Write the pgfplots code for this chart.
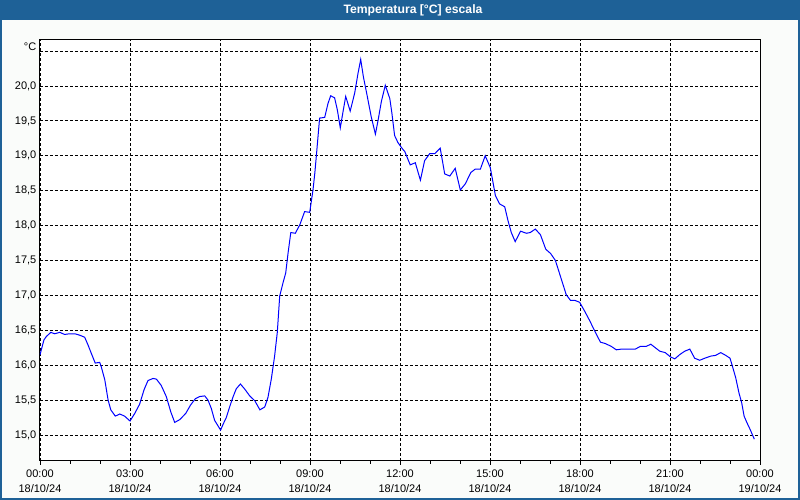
\documentclass[border=0pt]{standalone}
\usepackage{pgfplots}
\pgfplotsset{compat=1.18}
\usepackage{fontspec}
\setmainfont{Liberation Sans}
\definecolor{barblue}{RGB}{30,97,151}
\definecolor{bgc}{RGB}{250,252,250}
\begin{document}
\begin{tikzpicture}
\useasboundingbox (0pt,0pt) rectangle (800pt,500pt);
\fill[bgc] (0pt,0pt) rectangle (800pt,500pt);
\fill[barblue] (0pt,480pt) rectangle (800pt,500pt);
\draw[barblue, line width=2pt] (1pt,1pt) rectangle (799pt,499pt);
\node[text=white, font=\fontsize{12.2}{14}\selectfont\bfseries] at (413pt,489.5pt) {Temperatura [°C] escala};
\node[anchor=east, inner sep=0pt, font=\fontsize{11}{13}\selectfont] at (36.5pt,453pt) {°C};
\begin{axis}[
  at={(40pt,39pt)}, anchor=south west,
  width=720pt, height=421pt, scale only axis,
  xmin=0, xmax=24, ymin=14.627, ymax=20.659,
  axis background/.style={fill=white},
  axis line style={black, line width=1pt},
  xtick={0,3,6,9,12,15,18,21,24},
  xticklabels={{00:00\\18/10/24},{03:00\\18/10/24},{06:00\\18/10/24},{09:00\\18/10/24},{12:00\\18/10/24},{15:00\\18/10/24},{18:00\\18/10/24},{21:00\\18/10/24},{00:00\\19/10/24}},
  minor x tick num=2,
  ytick={15,15.5,16,16.5,17,17.5,18,18.5,19,19.5,20,20.5},
  yticklabels={{15,0},{15,5},{16,0},{16,5},{17,0},{17,5},{18,0},{18,5},{19,0},{19,5},{20,0},{}},
  xtick pos=bottom, ytick pos=left,
  tick align=outside,
  major tick length=4pt, minor tick length=3pt,
  tick style={black, line width=0.8pt},
  ytick style={draw=none},
  grid=major,
  major grid style={black, line width=0.8pt, dash pattern=on 3pt off 2pt},
  ticklabel style={font=\fontsize{11}{15}\selectfont},
  xticklabel style={align=center, inner sep=0pt, yshift=-5pt},
  yticklabel style={inner sep=0pt, xshift=0.5pt},
]
\addplot[blue, line width=1pt] coordinates {
(0.00,16.15) (0.02,16.18) (0.13,16.36) (0.21,16.41) (0.36,16.47) (0.49,16.45) (0.66,16.47) (0.82,16.44) (0.99,16.45) (1.16,16.45) (1.32,16.43) (1.49,16.40) (1.60,16.29) (1.71,16.17) (1.84,16.03) (1.99,16.04) (2.04,15.98) (2.16,15.79) (2.27,15.50) (2.36,15.36) (2.51,15.27) (2.66,15.30) (2.82,15.27) (3.00,15.20) (3.16,15.31) (3.32,15.44) (3.47,15.65) (3.60,15.78) (3.77,15.81) (3.88,15.80) (4.04,15.71) (4.21,15.55) (4.36,15.33) (4.49,15.18) (4.66,15.22) (4.86,15.31) (5.02,15.43) (5.18,15.52) (5.32,15.55) (5.49,15.56) (5.60,15.50) (5.71,15.38) (5.82,15.21) (6.02,15.07) (6.10,15.15) (6.21,15.25) (6.32,15.40) (6.43,15.54) (6.54,15.66) (6.68,15.73) (6.82,15.66) (6.99,15.56) (7.16,15.49) (7.33,15.36) (7.49,15.40) (7.60,15.54) (7.71,15.80) (7.82,16.13) (7.91,16.47) (7.99,16.99) (8.10,17.18) (8.19,17.32) (8.27,17.61) (8.36,17.90) (8.51,17.89) (8.66,18.01) (8.82,18.20) (8.99,18.19) (9.10,18.51) (9.16,18.75) (9.21,18.99) (9.32,19.54) (9.49,19.55) (9.60,19.75) (9.69,19.86) (9.82,19.83) (9.91,19.66) (10.01,19.40) (10.10,19.63) (10.19,19.85) (10.34,19.64) (10.49,19.90) (10.60,20.18) (10.69,20.38) (10.78,20.13) (10.91,19.85) (11.04,19.56) (11.18,19.31) (11.27,19.51) (11.38,19.78) (11.51,20.01) (11.66,19.82) (11.73,19.61) (11.82,19.29) (11.93,19.19) (12.08,19.10) (12.16,19.06) (12.34,18.87) (12.51,18.90) (12.68,18.65) (12.82,18.93) (12.99,19.03) (13.16,19.03) (13.34,19.11) (13.49,18.74) (13.66,18.71) (13.84,18.82) (14.01,18.51) (14.18,18.60) (14.36,18.76) (14.51,18.81) (14.68,18.81) (14.84,19.00) (15.01,18.83) (15.18,18.43) (15.32,18.31) (15.49,18.27) (15.60,18.07) (15.71,17.90) (15.84,17.77) (16.02,17.92) (16.21,17.89) (16.34,17.90) (16.51,17.95) (16.68,17.87) (16.86,17.66) (17.02,17.60) (17.18,17.50) (17.32,17.31) (17.46,17.12) (17.54,17.01) (17.68,16.93) (17.82,16.93) (17.99,16.90) (18.16,16.77) (18.32,16.64) (18.49,16.49) (18.68,16.33) (18.84,16.31) (19.04,16.27) (19.21,16.22) (19.38,16.23) (19.60,16.23) (19.84,16.23) (20.02,16.27) (20.21,16.27) (20.36,16.30) (20.51,16.25) (20.66,16.20) (20.84,16.18) (21.01,16.12) (21.16,16.09) (21.32,16.15) (21.49,16.20) (21.66,16.23) (21.82,16.10) (21.99,16.07) (22.16,16.10) (22.36,16.13) (22.52,16.14) (22.69,16.18) (22.86,16.14) (23.00,16.10) (23.07,16.00) (23.19,15.82) (23.30,15.60) (23.39,15.46) (23.47,15.27) (23.56,15.18) (23.67,15.08) (23.81,14.94)
};
\end{axis}
\end{tikzpicture}
\end{document}
